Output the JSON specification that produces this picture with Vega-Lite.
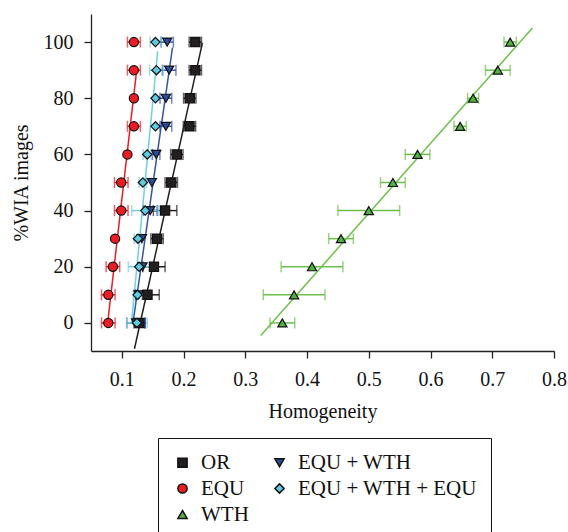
{
  "$schema": "https://vega.github.io/schema/vega-lite/v6.json",
  "width": 463,
  "height": 337,
  "autosize": {"type": "none"},
  "padding": {"left": 91, "top": 14, "right": 14, "bottom": 181},
  "config": {
    "view": {"stroke": null},
    "font": "Liberation Serif"
  },
  "datasets": {
    "pts": [
      {"series": "OR", "pct": 100, "h": 0.219, "lo": 0.209, "hi": 0.229},
      {"series": "OR", "pct": 90, "h": 0.219, "lo": 0.209, "hi": 0.229},
      {"series": "OR", "pct": 80, "h": 0.210, "lo": 0.200, "hi": 0.220},
      {"series": "OR", "pct": 70, "h": 0.2095, "lo": 0.1995, "hi": 0.2195},
      {"series": "OR", "pct": 60, "h": 0.189, "lo": 0.179, "hi": 0.199},
      {"series": "OR", "pct": 50, "h": 0.180, "lo": 0.170, "hi": 0.190},
      {"series": "OR", "pct": 40, "h": 0.170, "lo": 0.151, "hi": 0.189},
      {"series": "OR", "pct": 30, "h": 0.157, "lo": 0.147, "hi": 0.167},
      {"series": "OR", "pct": 20, "h": 0.152, "lo": 0.134, "hi": 0.170},
      {"series": "OR", "pct": 10, "h": 0.1415, "lo": 0.1225, "hi": 0.1605},
      {"series": "OR", "pct": 0, "h": 0.1285, "lo": 0.1195, "hi": 0.1375},
      {"series": "EQU", "pct": 100, "h": 0.1195, "lo": 0.109, "hi": 0.130},
      {"series": "EQU", "pct": 90, "h": 0.1195, "lo": 0.109, "hi": 0.130},
      {"series": "EQU", "pct": 80, "h": 0.1195, "lo": null, "hi": null},
      {"series": "EQU", "pct": 70, "h": 0.1195, "lo": 0.109, "hi": 0.130},
      {"series": "EQU", "pct": 60, "h": 0.109, "lo": null, "hi": null},
      {"series": "EQU", "pct": 50, "h": 0.099, "lo": 0.088, "hi": 0.110},
      {"series": "EQU", "pct": 40, "h": 0.099, "lo": 0.088, "hi": 0.110},
      {"series": "EQU", "pct": 30, "h": 0.089, "lo": null, "hi": null},
      {"series": "EQU", "pct": 20, "h": 0.0855, "lo": 0.0745, "hi": 0.0965},
      {"series": "EQU", "pct": 10, "h": 0.078, "lo": 0.067, "hi": 0.089},
      {"series": "EQU", "pct": 0, "h": 0.078, "lo": 0.067, "hi": 0.089},
      {"series": "WTH", "pct": 100, "h": 0.729, "lo": 0.719, "hi": 0.739},
      {"series": "WTH", "pct": 90, "h": 0.709, "lo": 0.689, "hi": 0.729},
      {"series": "WTH", "pct": 80, "h": 0.669, "lo": 0.660, "hi": 0.678},
      {"series": "WTH", "pct": 70, "h": 0.648, "lo": 0.638, "hi": 0.658},
      {"series": "WTH", "pct": 60, "h": 0.579, "lo": 0.559, "hi": 0.599},
      {"series": "WTH", "pct": 50, "h": 0.539, "lo": 0.519, "hi": 0.559},
      {"series": "WTH", "pct": 40, "h": 0.500, "lo": 0.450, "hi": 0.550},
      {"series": "WTH", "pct": 30, "h": 0.455, "lo": 0.435, "hi": 0.475},
      {"series": "WTH", "pct": 20, "h": 0.408, "lo": 0.358, "hi": 0.458},
      {"series": "WTH", "pct": 10, "h": 0.379, "lo": 0.329, "hi": 0.429},
      {"series": "WTH", "pct": 0, "h": 0.360, "lo": 0.340, "hi": 0.380},
      {"series": "EQU + WTH", "pct": 100, "h": 0.1734, "lo": 0.1634, "hi": 0.1834},
      {"series": "EQU + WTH", "pct": 90, "h": 0.1766, "lo": 0.1656, "hi": 0.1876},
      {"series": "EQU + WTH", "pct": 80, "h": 0.1713, "lo": 0.1618, "hi": 0.1808},
      {"series": "EQU + WTH", "pct": 70, "h": 0.1713, "lo": 0.1618, "hi": 0.1808},
      {"series": "EQU + WTH", "pct": 60, "h": 0.1556, "lo": 0.1496, "hi": 0.1616},
      {"series": "EQU + WTH", "pct": 50, "h": 0.1486, "lo": null, "hi": null},
      {"series": "EQU + WTH", "pct": 40, "h": 0.146, "lo": 0.135, "hi": 0.157},
      {"series": "EQU + WTH", "pct": 30, "h": 0.1324, "lo": null, "hi": null},
      {"series": "EQU + WTH", "pct": 20, "h": 0.1334, "lo": null, "hi": null},
      {"series": "EQU + WTH", "pct": 10, "h": 0.127, "lo": null, "hi": null},
      {"series": "EQU + WTH", "pct": 0, "h": 0.123, "lo": 0.108, "hi": 0.138},
      {"series": "EQU + WTH + EQU", "pct": 100, "h": 0.1544, "lo": 0.1457, "hi": 0.1631},
      {"series": "EQU + WTH + EQU", "pct": 90, "h": 0.156, "lo": 0.145, "hi": 0.167},
      {"series": "EQU + WTH + EQU", "pct": 80, "h": 0.1544, "lo": null, "hi": null},
      {"series": "EQU + WTH + EQU", "pct": 70, "h": 0.1544, "lo": null, "hi": null},
      {"series": "EQU + WTH + EQU", "pct": 60, "h": 0.141, "lo": 0.1345, "hi": 0.1475},
      {"series": "EQU + WTH + EQU", "pct": 50, "h": 0.134, "lo": 0.128, "hi": 0.140},
      {"series": "EQU + WTH + EQU", "pct": 40, "h": 0.1378, "lo": 0.1158, "hi": 0.1598},
      {"series": "EQU + WTH + EQU", "pct": 30, "h": 0.126, "lo": 0.120, "hi": 0.132},
      {"series": "EQU + WTH + EQU", "pct": 20, "h": 0.128, "lo": 0.1105, "hi": 0.1455},
      {"series": "EQU + WTH + EQU", "pct": 10, "h": 0.1253, "lo": 0.1185, "hi": 0.1321},
      {"series": "EQU + WTH + EQU", "pct": 0, "h": 0.1243, "lo": 0.1076, "hi": 0.141}
    ],
    "lines": [
      {"series": "OR", "pct": -9.2, "h": 0.1204},
      {"series": "OR", "pct": 99.7, "h": 0.2305},
      {"series": "EQU", "pct": 0, "h": 0.077},
      {"series": "EQU", "pct": 90, "h": 0.124},
      {"series": "WTH", "pct": -4.5, "h": 0.325},
      {"series": "WTH", "pct": 105, "h": 0.765},
      {"series": "EQU + WTH", "pct": 0, "h": 0.118},
      {"series": "EQU + WTH", "pct": 98, "h": 0.182},
      {"series": "EQU + WTH + EQU", "pct": 0, "h": 0.1156},
      {"series": "EQU + WTH + EQU", "pct": 96.7, "h": 0.158}
    ]
  },
  "layer": [
    {
      "data": {"name": "lines"},
      "mark": {"type": "line", "strokeWidth": 1.5},
      "encoding": {
        "x": {"field": "h", "type": "quantitative", "scale": {"domain": [0.05, 0.8], "nice": false, "zero": false},
          "title": "Homogeneity",
          "axis": {
            "values": [0.1, 0.2, 0.3, 0.4, 0.5, 0.6, 0.7, 0.8],
            "format": ".1f",
            "grid": false, "domainColor": "#222", "domainWidth": 1.3, "tickColor": "#222", "tickWidth": 1.3, "tickSize": 7,
            "labelFont": "Liberation Serif", "labelFontSize": 20, "labelColor": "#111",
            "titleFont": "Liberation Serif", "titleFontSize": 20, "titleFontWeight": "normal", "titleColor": "#111",
            "labelPadding": 11, "titlePadding": 12, "labelFlush": false
          }},
        "y": {"field": "pct", "type": "quantitative", "scale": {"domain": [-10, 110], "nice": false, "zero": false},
          "title": "%WIA images",
          "axis": {
            "values": [0, 20, 40, 60, 80, 100],
            "grid": false, "domainColor": "#222", "domainWidth": 1.3, "tickColor": "#222", "tickWidth": 1.3, "tickSize": 7,
            "labelFont": "Liberation Serif", "labelFontSize": 20, "labelColor": "#111",
            "titleFont": "Liberation Serif", "titleFontSize": 20, "titleFontWeight": "normal", "titleColor": "#111",
            "labelPadding": 11, "titlePadding": 12
          }},
        "stroke": {"field": "series", "type": "nominal", "legend": null,
          "scale": {"domain": ["EQU", "OR", "WTH", "EQU + WTH", "EQU + WTH + EQU"],
            "range": ["#ec1c24", "#231f20", "#6cc04a", "#3653ad", "#6fd0e8"]}},
        "detail": {"field": "series"}
      }
    },
    {
      "data": {"name": "pts"},
      "transform": [{"filter": "datum.lo != null"}],
      "mark": {"type": "rule", "strokeWidth": 1.5},
      "encoding": {
        "x": {"field": "lo", "type": "quantitative"},
        "x2": {"field": "hi"},
        "y": {"field": "pct", "type": "quantitative"},
        "stroke": {"field": "series", "type": "nominal", "legend": null}
      }
    },
    {
      "data": {"name": "pts"},
      "transform": [{"filter": "datum.lo != null"}],
      "mark": {"type": "tick", "orient": "vertical", "size": 11, "thickness": 1.5},
      "encoding": {
        "x": {"field": "lo", "type": "quantitative"},
        "y": {"field": "pct", "type": "quantitative"},
        "color": {"field": "series", "type": "nominal", "legend": null,
          "scale": {"domain": ["EQU", "OR", "WTH", "EQU + WTH", "EQU + WTH + EQU"],
            "range": ["#ec1c24", "#231f20", "#6cc04a", "#3653ad", "#6fd0e8"]}}
      }
    },
    {
      "data": {"name": "pts"},
      "transform": [{"filter": "datum.lo != null"}],
      "mark": {"type": "tick", "orient": "vertical", "size": 11, "thickness": 1.5},
      "encoding": {
        "x": {"field": "hi", "type": "quantitative"},
        "y": {"field": "pct", "type": "quantitative"},
        "color": {"field": "series", "type": "nominal", "legend": null}
      }
    },
    {
      "data": {"name": "pts"},
      "mark": {"type": "point", "filled": true, "size": 85, "stroke": "#111", "strokeWidth": 1.2, "opacity": 1},
      "encoding": {
        "x": {"field": "h", "type": "quantitative"},
        "y": {"field": "pct", "type": "quantitative"},
        "fill": {"field": "series", "type": "nominal",
          "scale": {"domain": ["OR", "EQU", "WTH", "EQU + WTH", "EQU + WTH + EQU"],
            "range": ["#231f20", "#ec1c24", "#55b043", "#2b4c9b", "#5fcbe0"]},
          "legend": {
            "title": null, "orient": "none", "legendX": 67, "legendY": 424,
            "columns": 2, "columnPadding": 20, "rowPadding": 4, "padding": 14,
            "strokeColor": "#111", "fillColor": "white",
            "labelFont": "Liberation Serif", "labelFontSize": 21, "labelColor": "#111", "labelLimit": 400,
            "symbolSize": 85, "labelOffset": 8,
            "encode": {"symbols": {"update": {"stroke": {"value": "#111"}, "strokeWidth": {"value": 1.2}}}}
          }},
        "shape": {"field": "series", "type": "nominal",
          "scale": {"domain": ["OR", "EQU", "WTH", "EQU + WTH", "EQU + WTH + EQU"],
            "range": ["square", "circle", "triangle-up", "triangle-down", "diamond"]}}
      }
    }
  ]
}
